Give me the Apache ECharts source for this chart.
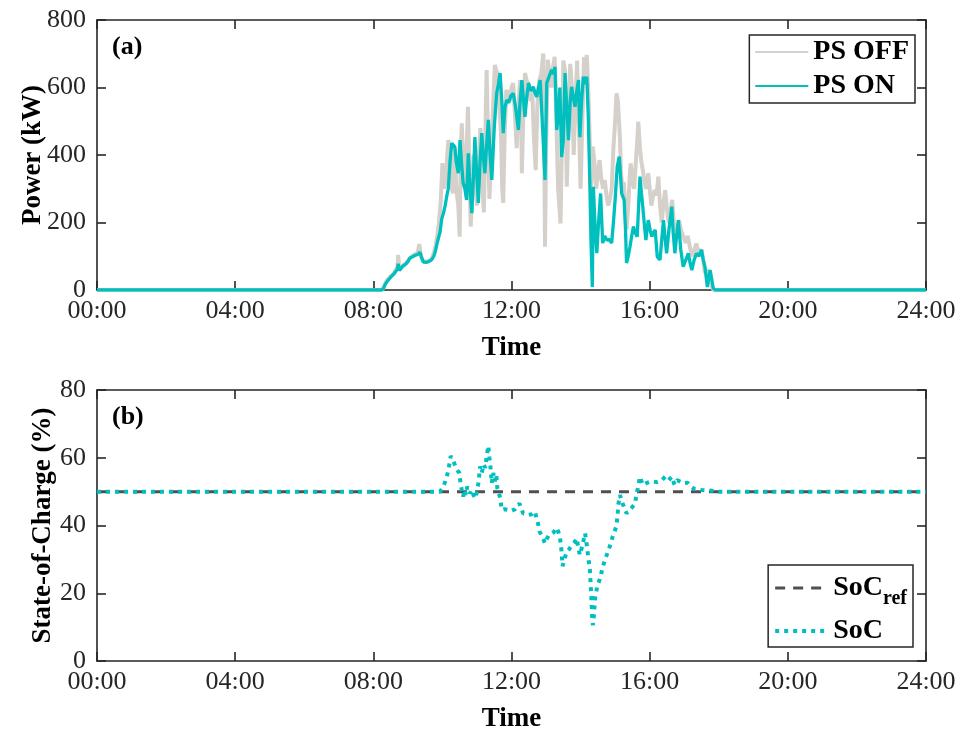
<!DOCTYPE html>
<html><head><meta charset="utf-8">
<script src="https://cdn.jsdelivr.net/npm/echarts@6/dist/echarts.min.js"></script>
<style>html,body{margin:0;padding:0;background:#fff}#c{width:962px;height:729px}</style>
</head><body><div id="c"></div>
<script>
// Time in hours, power in kW
const timeTicks = [0, 4, 8, 12, 16, 20, 24];
const psOff = [[0,0],[8.25,0],[8.3,8],[8.35,20],[8.4,30],[8.45,28],[8.5,40],[8.55,35],[8.6,50],[8.65,48],[8.7,70],[8.72,104],[8.75,60],[8.8,65],[8.85,72],[8.9,70],[8.95,80],[9.0,86],[9.06,95],[9.12,100],[9.2,105],[9.28,110],[9.33,136],[9.38,100],[9.45,85],[9.5,80],[9.55,84],[9.62,88],[9.69,92],[9.75,110],[9.8,130],[9.85,160],[9.9,200],[9.95,260],[10.0,376],[10.05,300],[10.1,330],[10.17,444],[10.22,420],[10.27,300],[10.31,287],[10.36,420],[10.4,300],[10.46,250],[10.5,158],[10.53,400],[10.56,494],[10.6,380],[10.65,300],[10.7,420],[10.74,543],[10.78,350],[10.82,188],[10.87,300],[10.9,400],[10.95,320],[11.0,250],[11.05,380],[11.1,480],[11.15,320],[11.2,230],[11.24,450],[11.28,652],[11.32,450],[11.36,270],[11.41,400],[11.45,500],[11.49,600],[11.52,667],[11.56,650],[11.6,640],[11.65,550],[11.7,450],[11.73,300],[11.76,258],[11.8,450],[11.85,593],[11.9,580],[11.95,560],[12.0,600],[12.05,613],[12.1,520],[12.15,420],[12.2,550],[12.25,622],[12.28,500],[12.3,346],[12.35,550],[12.39,643],[12.44,620],[12.5,610],[12.55,560],[12.6,590],[12.65,450],[12.7,355],[12.75,550],[12.8,620],[12.86,640],[12.92,701],[12.95,400],[12.97,128],[13.0,400],[13.05,682],[13.1,640],[13.15,600],[13.2,660],[13.25,691],[13.3,500],[13.35,300],[13.42,197],[13.46,450],[13.5,680],[13.55,650],[13.6,306],[13.65,500],[13.7,670],[13.75,600],[13.8,400],[13.85,550],[13.9,680],[13.95,500],[14.0,300],[14.05,500],[14.1,690],[14.15,670],[14.18,696],[14.22,600],[14.25,500],[14.3,300],[14.35,425],[14.4,380],[14.45,300],[14.5,340],[14.55,385],[14.6,330],[14.65,300],[14.7,326],[14.75,280],[14.8,250],[14.85,270],[14.9,300],[14.95,420],[15.0,500],[15.04,583],[15.08,560],[15.1,563],[15.14,450],[15.17,346],[15.21,300],[15.25,320],[15.29,250],[15.33,180],[15.38,250],[15.42,330],[15.45,375],[15.5,320],[15.55,300],[15.6,380],[15.64,440],[15.67,499],[15.72,420],[15.76,380],[15.8,356],[15.85,320],[15.9,300],[15.96,346],[16.0,300],[16.05,250],[16.1,280],[16.15,296],[16.2,280],[16.25,336],[16.3,250],[16.35,200],[16.4,260],[16.45,296],[16.5,240],[16.55,200],[16.6,230],[16.65,267],[16.7,200],[16.75,150],[16.8,180],[16.85,207],[16.9,180],[17.0,150],[17.05,140],[17.1,160],[17.18,120],[17.25,100],[17.3,120],[17.35,138],[17.42,110],[17.5,120],[17.55,90],[17.6,50],[17.65,60],[17.7,50],[17.75,30],[17.8,10],[17.85,0],[24,0]];
const psOn = [[0,0],[8.25,0],[8.3,6],[8.35,18],[8.4,25],[8.45,30],[8.5,38],[8.55,35],[8.6,48],[8.65,45],[8.7,62],[8.72,78],[8.75,58],[8.8,62],[8.85,70],[8.9,68],[8.95,78],[9.0,84],[9.06,95],[9.12,98],[9.2,102],[9.28,105],[9.35,112],[9.4,95],[9.45,83],[9.5,80],[9.55,82],[9.62,85],[9.69,90],[9.75,100],[9.79,112],[9.85,140],[9.9,160],[9.93,170],[9.98,210],[10.03,228],[10.08,250],[10.12,275],[10.17,300],[10.22,380],[10.27,435],[10.31,430],[10.36,424],[10.4,380],[10.46,346],[10.51,444],[10.55,380],[10.6,317],[10.65,300],[10.7,267],[10.75,405],[10.8,300],[10.85,228],[10.9,340],[10.94,453],[10.99,350],[11.04,258],[11.09,380],[11.14,465],[11.18,400],[11.23,346],[11.28,430],[11.33,504],[11.38,400],[11.43,326],[11.5,480],[11.57,583],[11.62,610],[11.67,643],[11.72,560],[11.76,465],[11.81,540],[11.86,563],[11.92,555],[11.98,575],[12.05,583],[12.12,540],[12.2,474],[12.25,560],[12.3,622],[12.35,560],[12.39,513],[12.44,570],[12.49,613],[12.56,590],[12.63,602],[12.68,585],[12.73,572],[12.78,600],[12.83,622],[12.9,480],[12.97,326],[13.02,613],[13.08,630],[13.16,652],[13.21,640],[13.26,661],[13.31,474],[13.36,520],[13.4,600],[13.45,394],[13.5,444],[13.55,643],[13.6,540],[13.65,444],[13.7,560],[13.74,602],[13.79,570],[13.84,543],[13.89,590],[13.94,622],[13.98,453],[14.03,560],[14.08,632],[14.13,610],[14.18,632],[14.22,524],[14.27,306],[14.3,150],[14.34,9],[14.37,306],[14.42,188],[14.47,109],[14.52,200],[14.58,286],[14.64,139],[14.7,160],[14.76,148],[14.83,150],[14.9,139],[14.95,200],[15.0,267],[15.06,365],[15.12,395],[15.19,286],[15.26,267],[15.3,180],[15.33,80],[15.38,100],[15.43,128],[15.48,160],[15.53,188],[15.58,170],[15.64,158],[15.68,250],[15.72,336],[15.76,290],[15.8,247],[15.85,190],[15.89,148],[15.96,207],[16.01,180],[16.06,158],[16.11,170],[16.16,178],[16.22,99],[16.3,89],[16.35,150],[16.4,207],[16.45,150],[16.49,109],[16.56,180],[16.64,247],[16.68,170],[16.73,109],[16.78,160],[16.83,207],[16.9,120],[16.97,69],[17.05,90],[17.12,109],[17.17,80],[17.22,59],[17.29,90],[17.36,109],[17.43,100],[17.5,119],[17.55,90],[17.6,69],[17.67,9],[17.75,59],[17.8,30],[17.84,5],[17.9,0],[24,0]];
const socRef = [[0,50],[24,50]];
const soc = [[0,50],[9.93,50],[10.0,51],[10.08,52.9],[10.13,54.5],[10.17,56.4],[10.21,58.5],[10.24,60.5],[10.28,60.8],[10.32,59],[10.36,57.9],[10.42,56.5],[10.49,55.5],[10.53,52],[10.57,50],[10.6,48.5],[10.64,50.5],[10.68,49],[10.72,51.5],[10.75,51],[10.8,49.5],[10.85,50.5],[10.9,49],[10.95,48],[11.0,50],[11.05,53],[11.09,57.4],[11.14,55.5],[11.19,58],[11.24,57],[11.28,60.3],[11.33,63.5],[11.36,60],[11.39,57.4],[11.43,52.5],[11.47,55.5],[11.52,53],[11.56,55],[11.59,51],[11.63,50],[11.67,48],[11.72,44.6],[11.8,44.8],[11.91,44.6],[12.0,44.3],[12.1,44.8],[12.23,46.5],[12.3,44.5],[12.34,43.6],[12.42,43.5],[12.49,43.1],[12.58,43.3],[12.68,44.1],[12.73,42],[12.78,40.1],[12.82,38],[12.87,37.2],[12.92,36],[12.97,34.7],[13.02,36],[13.07,37],[13.15,37.5],[13.22,38],[13.31,39.3],[13.36,38],[13.4,36.7],[13.44,33.4],[13.48,28],[13.53,30],[13.6,32.3],[13.67,33],[13.74,34.2],[13.82,35],[13.89,36.2],[13.94,33],[13.98,31.3],[14.05,34],[14.13,37.7],[14.18,34.2],[14.22,30.8],[14.27,26.9],[14.29,22.9],[14.32,17],[14.34,11.5],[14.36,10.6],[14.39,14],[14.42,18.5],[14.48,21.9],[14.58,24.9],[14.64,27.8],[14.74,30.8],[14.84,33.7],[14.93,36.7],[15.03,39.6],[15.07,42.6],[15.09,46],[15.14,49],[15.2,47],[15.27,45],[15.33,43.6],[15.43,44.6],[15.5,45.5],[15.58,46.5],[15.62,49.5],[15.66,51],[15.72,54.4],[15.8,52],[15.9,52.5],[16.01,52.9],[16.1,53],[16.2,52.8],[16.35,53.4],[16.45,54.4],[16.55,53.4],[16.64,54.4],[16.72,52],[16.8,53.4],[16.97,52.5],[17.1,52.6],[17.2,51.5],[17.31,50.7],[17.5,50.5],[17.75,50.3],[18.0,50],[24,50]];

const FONT = 'Liberation Serif';
const AX = '#262626';
const TEAL = '#00bfbf';
const GRAY = '#d5d1ca';
const pad = h => (h < 10 ? '0' : '') + h + ':00';

function xAx(grid, pos, labels) {
  return {
    type: 'value', gridIndex: grid, position: pos, min: 0, max: 24, interval: 4,
    name: labels ? 'Time' : '', nameLocation: 'middle', nameGap: 45, nameMoveOverlap: false,
    nameTextStyle: {fontFamily: FONT, fontSize: 27, fontWeight: 'bold', color: '#000'},
    axisLine: {show: true, onZero: false, lineStyle: {color: AX, width: 1.6}},
    axisTick: {show: true, inside: true, length: 9, lineStyle: {color: AX, width: 1.6}},
    axisLabel: {show: labels, formatter: v => pad(v), fontFamily: FONT, fontSize: 26, color: AX, margin: 8},
    splitLine: {show: false}
  };
}
function yAx(grid, pos, labels, max, interval, name, gap) {
  return {
    type: 'value', gridIndex: grid, position: pos, min: 0, max: max, interval: interval,
    name: labels ? name : '', nameLocation: 'middle', nameGap: gap, nameMoveOverlap: false,
    nameTextStyle: {fontFamily: FONT, fontSize: 27, fontWeight: 'bold', color: '#000'},
    axisLine: {show: true, onZero: false, lineStyle: {color: AX, width: 1.6}},
    axisTick: {show: true, inside: true, length: 9, lineStyle: {color: AX, width: 1.6}},
    axisLabel: {show: labels, fontFamily: FONT, fontSize: 26, color: AX, margin: 11},
    splitLine: {show: false}
  };
}

const legendText = {fontFamily: FONT, fontSize: 28, fontWeight: 'bold', color: '#000'};
const chart = echarts.init(document.getElementById('c'), null, {renderer: 'canvas'});
chart.setOption({
  animation: false,
  backgroundColor: '#fff',
  title: [
    {text: '(a)', left: 107, top: 29, textStyle: {fontFamily: FONT, fontSize: 26, fontWeight: 'bold', color: '#000'}},
    {text: '(b)', left: 107, top: 399, textStyle: {fontFamily: FONT, fontSize: 26, fontWeight: 'bold', color: '#000'}}
  ],
  grid: [
    {left: 97, top: 20, width: 829, height: 270, outerBoundsMode: 'none', containLabel: false},
    {left: 97, top: 390, width: 829, height: 271, outerBoundsMode: 'none', containLabel: false}
  ],
  xAxis: [xAx(0, 'bottom', true), xAx(1, 'bottom', true), xAx(0, 'top', false), xAx(1, 'top', false)],
  yAxis: [
    yAx(0, 'left', true, 800, 200, 'Power (kW)', 50),
    yAx(1, 'left', true, 80, 20, 'State-of-Charge (%)', 40),
    yAx(0, 'right', false, 800, 200, '', 0),
    yAx(1, 'right', false, 80, 20, '', 0)
  ],
  legend: [
    {
      data: ['PS OFF', 'PS ON'], orient: 'vertical', right: 47, top: 35,
      itemWidth: 53, itemHeight: 14, itemGap: 6,
      backgroundColor: '#fff', borderColor: AX, borderWidth: 1.5, borderRadius: 0,
      padding: [3, 6, 3, 5],
      itemStyle: {opacity: 0},
      textStyle: legendText
    },
    {
      data: [{name: 'SoCref', lineStyle: {width: 3}}, {name: 'SoC', lineStyle: {width: 4}}],
      orient: 'vertical', right: 49, top: 565,
      itemWidth: 53, itemHeight: 14, itemGap: 8,
      backgroundColor: '#fff', borderColor: AX, borderWidth: 1.5, borderRadius: 0,
      padding: [9, 6, 2, 5],
      itemStyle: {opacity: 0},
      formatter: n => n === 'SoCref' ? '{m|SoC}{s|ref}' : '{m|SoC}',
      textStyle: Object.assign({}, legendText, {
        rich: {
          m: legendText,
          s: {fontFamily: FONT, fontSize: 20, fontWeight: 'bold', color: '#000', padding: [22, 0, 0, 0]}
        }})
    }
  ],
  series: [
    {name: 'PS OFF', type: 'line', xAxisIndex: 0, yAxisIndex: 0, data: psOff, showSymbol: false, symbol: 'none',
      lineStyle: {color: GRAY, width: 4}, itemStyle: {color: GRAY}},
    {name: 'PS ON', type: 'line', xAxisIndex: 0, yAxisIndex: 0, data: psOn, showSymbol: false, symbol: 'none',
      lineStyle: {color: TEAL, width: 3.3}, itemStyle: {color: TEAL}},
    {name: 'SoCref', type: 'line', xAxisIndex: 1, yAxisIndex: 1, data: socRef, showSymbol: false, symbol: 'none',
      lineStyle: {color: '#505050', width: 3, type: [10, 8]}, itemStyle: {color: '#505050'}},
    {name: 'SoC', type: 'line', xAxisIndex: 1, yAxisIndex: 1, data: soc, showSymbol: false, symbol: 'none',
      lineStyle: {color: TEAL, width: 4, type: [4, 5], cap: 'butt'}, itemStyle: {color: TEAL}}
  ]
});
</script></body></html>
